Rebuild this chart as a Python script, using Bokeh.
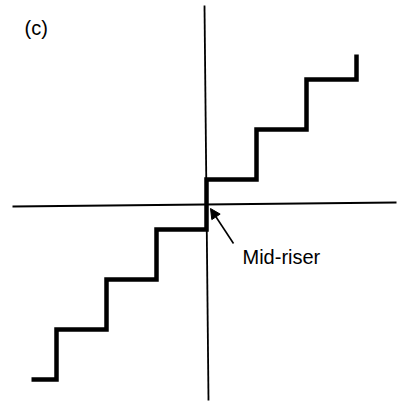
from bokeh.plotting import figure
from bokeh.models import Arrow, NormalHead, Label, Range1d
from bokeh.embed import file_html
from bokeh.resources import INLINE

# Quantizer (mid-riser) data: decision thresholds and output levels
x_edges = [-3.5, -3.0, -2.0, -1.0, 0.0, 1.0, 2.0, 3.0]
levels = [-3.5, -2.5, -1.5, -0.5, 0.5, 1.5, 2.5]
top_level = 3.0

# Axes lines (slightly skewed as in scanned figure)
haxis_x = [-3.88, 3.8]
haxis_y = [-0.04, 0.04]
vaxis_x = [-0.04, 0.04]
vaxis_y = [3.98, -3.92]

# build staircase path
sx = [x_edges[0]]
sy = [levels[0]]
for i in range(len(levels)):
    sx.append(x_edges[i + 1]); sy.append(levels[i])
    nxt = levels[i + 1] if i + 1 < len(levels) else top_level
    sx.append(x_edges[i + 1]); sy.append(nxt)

p = figure(width=401, height=406, output_backend="svg", toolbar_location=None,
           x_range=Range1d(-4.12, 3.9), y_range=Range1d(-4.04, 4.08),
           min_border=0)
p.axis.visible = False
p.grid.visible = False
p.outline_line_color = None
p.background_fill_color = "white"

p.line(haxis_x, haxis_y, line_color="black", line_width=1.8)
p.line(vaxis_x, vaxis_y, line_color="black", line_width=1.8)
p.line(sx, sy, line_color="black", line_width=4.5, line_join="miter")

p.add_layout(Arrow(end=NormalHead(size=10, fill_color="black", line_color="black", line_width=1),
                   x_start=0.54, y_start=-0.78, x_end=0.08, y_end=-0.08,
                   line_color="black", line_width=1.6))

p.add_layout(Label(x=0.72, y=-1.04, text="Mid-riser", text_font="Liberation Sans",
                   text_font_size="20px", text_color="black", text_baseline="alphabetic"))
p.add_layout(Label(x=-3.64, y=3.54, text="(c)", text_font="Liberation Sans",
                   text_font_size="20px", text_color="black", text_baseline="alphabetic"))

open("out.html", "w").write(file_html(p, INLINE))
